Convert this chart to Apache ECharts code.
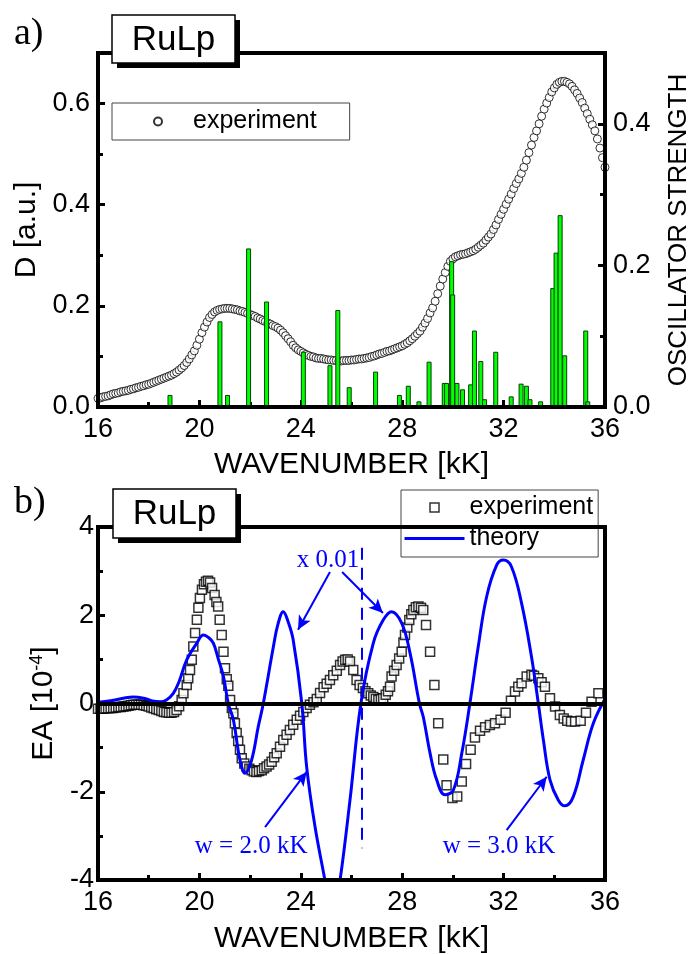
<!DOCTYPE html>
<html>
<head>
<meta charset="utf-8">
<script src="https://cdn.jsdelivr.net/npm/echarts@6/dist/echarts.min.js"></script>
<style>
html,body{margin:0;padding:0;background:#fff;}
#chart{width:688px;height:954px;}
</style>
</head>
<body>
<div id="chart"></div>
<script>
// ---------- Panel a): absorption ----------
const absX = [
16.0,16.1,16.2,16.3,16.4,16.5,16.6,16.7,16.8,16.9,
17.0,17.1,17.2,17.3,17.4,17.5,17.6,17.7,17.8,17.9,
18.0,18.1,18.2,18.3,18.4,18.5,18.6,18.7,18.8,18.9,
19.0,19.1,19.2,19.3,19.4,19.5,19.6,19.7,19.8,19.9,
20.0,20.1,20.2,20.3,20.4,20.5,20.6,20.7,20.8,20.9,
21.0,21.1,21.2,21.3,21.4,21.5,21.6,21.7,21.8,21.9,
22.0,22.1,22.2,22.3,22.4,22.5,22.6,22.7,22.8,22.9,
23.0,23.1,23.2,23.3,23.4,23.5,23.6,23.7,23.8,23.9,
24.0,24.1,24.2,24.3,24.4,24.5,24.6,24.7,24.8,24.9,
25.0,25.1,25.2,25.3,25.4,25.5,25.6,25.7,25.8,25.9,
26.0,26.1,26.2,26.3,26.4,26.5,26.6,26.7,26.8,26.9,
27.0,27.1,27.2,27.3,27.4,27.5,27.6,27.7,27.8,27.9,
28.0,28.1,28.2,28.3,28.4,28.5,28.6,28.7,28.8,28.9,
29.0,29.1,29.2,29.3,29.4,29.5,29.6,29.7,29.8,29.9,
30.0,30.1,30.2,30.3,30.4,30.5,30.6,30.7,30.8,30.9,
31.0,31.1,31.2,31.3,31.4,31.5,31.6,31.7,31.8,31.9,
32.0,32.1,32.2,32.3,32.4,32.5,32.6,32.7,32.8,32.9,
33.0,33.1,33.2,33.3,33.4,33.5,33.6,33.7,33.8,33.9,
34.0,34.1,34.2,34.3,34.4,34.5,34.6,34.7,34.8,34.9,
35.0,35.1,35.2,35.3,35.4,35.5,35.6,35.7,35.8,35.9,
36.0];
const absD = [
.017,.018,.020,.021,.022,.024,.026,.027,.028,.030,
.031,.032,.033,.035,.036,.038,.039,.041,.042,.044,
.045,.047,.049,.051,.053,.055,.057,.059,.061,.063,
.066,.069,.073,.077,.082,.088,.095,.103,.111,.122,
.134,.147,.158,.168,.177,.183,.188,.191,.193,.194,
.195,.195,.195,.194,.193,.192,.190,.189,.187,.185,
.183,.181,.179,.176,.174,.171,.169,.166,.164,.161,
.159,.156,.152,.147,.141,.135,.129,.122,.117,.113,
.110,.107,.104,.102,.100,.099,.097,.096,.096,.095,
.094,.093,.093,.092,.092,.091,.091,.092,.092,.092,
.093,.093,.094,.095,.095,.096,.097,.098,.100,.101,
.103,.105,.106,.108,.110,.111,.113,.115,.117,.119,
.121,.124,.127,.131,.135,.140,.145,.150,.158,.166,
.175,.186,.196,.209,.224,.239,.253,.266,.278,.288,
.293,.297,.299,.301,.302,.303,.305,.307,.309,.312,
.316,.320,.324,.330,.336,.342,.351,.360,.371,.381,
.391,.401,.411,.421,.432,.442,.451,.462,.474,.488,
.503,.518,.533,.546,.560,.575,.589,.601,.612,.623,
.631,.638,.642,.644,.644,.642,.639,.634,.627,.620,
.611,.602,.591,.580,.569,.558,.546,.530,.512,.493,
.474];
// oscillator strengths (stick spectrum)
const oscX = [18.84,20.81,21.11,21.94,22.65,24.10,25.15,25.46,25.91,26.95,27.89,28.24,28.66,29.06,29.66,29.75,29.95,29.99,30.16,30.38,30.70,30.85,31.10,31.25,31.69,32.30,32.69,32.90,33.04,33.46,33.94,34.07,34.23,34.41,35.24,35.32];
const oscF = [0.017,0.121,0.017,0.224,0.149,0.078,0.059,0.137,0.028,0.050,0.017,0.030,0.008,0.064,0.034,0.034,0.206,0.159,0.034,0.025,0.032,0.108,0.065,0.011,0.078,0.015,0.033,0.030,0.011,0.008,0.168,0.218,0.271,0.073,0.108,0.008];

// ---------- Panel b): electroabsorption ----------
const eaX = [16.0,16.1,16.2,16.3,16.4,16.5,16.6,16.7,16.8,16.9,17.0,17.1,17.2,17.3,17.4,17.5,17.6,17.7,17.8,17.9,18.0,18.1,18.2,18.3,18.4,18.5,18.6,18.7,18.8,18.9,19.0,19.1,19.2,19.3,19.37,19.5,19.56,19.63,19.7,19.76,19.83,19.9,19.96,20.02,20.1,20.18,20.26,20.34,20.42,20.5,20.6,20.67,20.74,20.8,20.88,20.95,21.01,21.08,21.14,21.21,21.28,21.34,21.4,21.47,21.53,21.6,21.67,21.77,21.87,21.97,22.06,22.15,22.25,22.35,22.46,22.55,22.65,22.75,22.85,22.95,23.05,23.18,23.31,23.44,23.57,23.7,23.84,23.97,24.1,24.23,24.36,24.5,24.63,24.76,24.9,25.02,25.15,25.28,25.42,25.55,25.65,25.75,25.85,25.94,26.07,26.2,26.32,26.45,26.55,26.66,26.76,26.86,26.96,27.06,27.16,27.25,27.35,27.44,27.52,27.58,27.68,27.78,27.88,27.98,28.05,28.11,28.2,28.28,28.36,28.44,28.54,28.64,28.74,28.83,28.94,29.1,29.27,29.42,29.62,29.75,29.98,30.17,30.35,30.52,30.7,30.87,31.07,31.27,31.46,31.66,31.88,32.08,32.29,32.45,32.58,32.71,32.91,33.1,33.2,33.37,33.5,33.63,33.83,34.03,34.22,34.37,34.51,34.66,34.82,35.04,35.25,35.47,35.74];
const eaExp = [-0.12,-0.12,-0.12,-0.11,-0.11,-0.10,-0.10,-0.09,-0.08,-0.08,-0.07,-0.06,-0.05,-0.04,-0.03,-0.03,-0.03,-0.03,-0.04,-0.05,-0.07,-0.09,-0.11,-0.13,-0.15,-0.17,-0.19,-0.20,-0.21,-0.21,-0.19,-0.15,-0.06,0.08,0.23,0.42,0.57,0.76,0.99,1.29,1.60,1.90,2.17,2.39,2.58,2.70,2.76,2.78,2.74,2.62,2.46,2.30,2.20,1.90,1.55,1.17,0.80,0.55,0.40,0.08,-0.10,-0.22,-0.45,-0.67,-0.85,-1.05,-1.24,-1.36,-1.43,-1.48,-1.51,-1.54,-1.55,-1.53,-1.51,-1.47,-1.43,-1.38,-1.32,-1.22,-1.13,-0.98,-0.83,-0.71,-0.60,-0.48,-0.37,-0.28,-0.19,-0.10,-0.03,0.03,0.10,0.24,0.37,0.45,0.53,0.64,0.74,0.87,0.95,0.99,1.00,0.95,0.76,0.53,0.42,0.35,0.28,0.23,0.18,0.15,0.10,0.08,0.10,0.12,0.20,0.28,0.38,0.61,0.74,0.87,1.02,1.17,1.38,1.55,1.72,1.89,2.02,2.12,2.18,2.20,2.17,2.12,1.78,1.17,0.42,-0.45,-1.27,-1.85,-2.14,-2.11,-1.77,-1.37,-1.05,-0.77,-0.62,-0.54,-0.49,-0.45,-0.37,-0.21,0.06,0.27,0.38,0.46,0.61,0.65,0.63,0.57,0.48,0.38,0.12,-0.07,-0.26,-0.34,-0.39,-0.41,-0.41,-0.39,-0.21,0.04,0.23];
const thX = [16.0,16.5,17.0,17.39,17.8,18.2,18.45,18.7,18.97,19.2,19.5,19.9,20.16,20.35,20.55,20.75,20.95,21.14,21.34,21.6,21.8,22.06,22.32,22.52,22.92,23.1,23.31,23.5,23.7,24.04,24.23,24.56,24.95,25.25,25.55,25.94,26.37,26.86,27.25,27.58,27.98,28.31,28.68,28.83,29.1,29.36,29.69,30.02,30.35,30.67,31.0,31.33,31.73,31.99,32.31,32.71,33.1,33.37,33.57,33.83,34.16,34.42,34.75,35.14,35.54,36.0];
const thY = [0.03,0.06,0.12,0.15,0.12,0.05,0.04,0.08,0.23,0.5,0.99,1.37,1.55,1.5,1.37,1.0,0.61,0.0,-0.37,-1.28,-1.58,-1.28,-0.53,0.0,1.29,1.8,2.08,1.85,1.44,0.0,-1.43,-2.79,-4.0,-5.0,-4.0,-2.19,0.0,1.37,1.89,2.08,1.82,1.14,0.0,-0.3,-1.13,-1.73,-2.07,-1.96,-1.13,0.0,1.29,2.42,3.14,3.25,3.1,2.27,1.06,0.0,-0.83,-1.73,-2.19,-2.32,-2.11,-1.28,-0.45,0.1];

const xTicksLabel = ['16','20','24','28','32','36'];

const FONT = 'Liberation Sans';
const SERIF = 'Liberation Serif';
const BLUE = '#0000ff';
const SQUARE = 'path://M0 0H10V10H0Z';

function zip(a, b) { return a.map((v, i) => [v, b[i]]); }

const chart = echarts.init(document.getElementById('chart'), null, {renderer: 'canvas'});

const tickStyle = {show: true, inside: true, length: 7, lineStyle: {color: '#000', width: 3}};
const minorStyle = {show: true, splitNumber: 2, length: 5, lineStyle: {color: '#000', width: 3}};

function xAxisCfg(gridIndex, nameGap, labelMargin) {
  return {
    type: 'value', gridIndex: gridIndex, position: 'bottom',
    min: 16, max: 36, interval: 4,
    axisLine: {show: false, onZero: false},
    axisTick: tickStyle, minorTick: minorStyle,
    splitLine: {show: false},
    axisLabel: {color: '#000', fontFamily: FONT, fontSize: 27, margin: labelMargin,
      formatter: v => xTicksLabel[Math.round((v - 16) / 4)] || ''},
    name: 'WAVENUMBER [kK]', nameLocation: 'middle', nameGap: nameGap,
    nameTextStyle: {color: '#000', fontFamily: FONT, fontSize: 30}
  };
}

const option = {
  animation: false,
  backgroundColor: '#fff',
  grid: [
    {left: 98, top: 53, width: 507, height: 354, show: true, borderColor: '#000', borderWidth: 4,
      backgroundColor: 'transparent', z: 10, containLabel: false, outerBoundsMode: 'none'},
    {left: 98, top: 527, width: 507, height: 353, show: true, borderColor: '#000', borderWidth: 4,
      backgroundColor: 'transparent', z: 10, containLabel: false, outerBoundsMode: 'none'}
  ],
  xAxis: [xAxisCfg(0, 43, 9), xAxisCfg(1, 44, 9)],
  yAxis: [
    {type: 'value', gridIndex: 0, position: 'left', min: 0, max: 0.7, interval: 0.2,
      axisLine: {show: false}, axisTick: tickStyle, minorTick: minorStyle, splitLine: {show: false},
      axisLabel: {color: '#000', fontFamily: FONT, fontSize: 27, margin: 8, showMaxLabel: false,
        formatter: v => v.toFixed(1)},
      name: 'D [a.u.]', nameLocation: 'middle', nameRotate: 90, nameGap: 48,
      nameTextStyle: {color: '#000', fontFamily: FONT, fontSize: 30}},
    {type: 'value', gridIndex: 0, position: 'right', min: 0, max: 0.5, interval: 0.2,
      axisLine: {show: false}, axisTick: tickStyle, minorTick: minorStyle, splitLine: {show: false},
      axisLabel: {color: '#000', fontFamily: FONT, fontSize: 27, margin: 8, showMaxLabel: false,
        formatter: v => v.toFixed(1)},
      name: 'OSCILLATOR STRENGTH', nameLocation: 'middle', nameRotate: 90, nameGap: 61,
      nameTextStyle: {color: '#000', fontFamily: FONT, fontSize: 26}},
    {type: 'value', gridIndex: 1, position: 'left', min: -4, max: 4, interval: 2,
      axisLine: {show: false, onZero: false}, axisTick: tickStyle, minorTick: minorStyle, splitLine: {show: false},
      axisLabel: {color: '#000', fontFamily: FONT, fontSize: 27, margin: 4},
      name: '{a|EA [10}{s|-4}{a|]}', nameLocation: 'middle', nameRotate: 90, nameGap: 31,
      nameTextStyle: {color: '#000', fontFamily: FONT, fontSize: 30,
        rich: {a: {fontFamily: FONT, fontSize: 30, color: '#000', lineHeight: 32},
               s: {fontFamily: FONT, fontSize: 18, color: '#000', verticalAlign: 'top', lineHeight: 32}}}}
  ],
  legend: [
    {left: 112, top: 103, orient: 'horizontal', padding: [5, 33, 5, 41],
      itemWidth: 60, itemHeight: 8, borderColor: '#444', borderWidth: 1, backgroundColor: '#fff',
      symbolKeepAspect: true,
      data: ['experiment'], selectedMode: false,
      textStyle: {color: '#000', fontFamily: FONT, fontSize: 25, lineHeight: 27}},
    {left: 401, top: 490, orient: 'vertical', padding: [4, 5, 5, 2], itemGap: 4,
      itemWidth: 60, itemHeight: 9, borderColor: '#444', borderWidth: 1, backgroundColor: '#fff',
      symbolKeepAspect: true,
      data: [
        {name: 'experiment_b', icon: SQUARE,
          itemStyle: {color: '#fff', borderColor: '#000', borderWidth: 1.5}},
        {name: 'theory',
          itemStyle: {color: 'rgba(0,0,0,0)', borderColor: 'rgba(0,0,0,0)', borderWidth: 0},
          lineStyle: {color: BLUE, width: 3}}
      ],
      selectedMode: false,
      formatter: n => n.replace('_b', ''),
      textStyle: {color: '#000', fontFamily: FONT, fontSize: 25, lineHeight: 27}}
  ],
  series: [
    {name: 'experiment', type: 'scatter', xAxisIndex: 0, yAxisIndex: 0,
      symbol: 'circle', symbolSize: 8, z: 2,
      itemStyle: {color: '#fff', borderColor: '#000', borderWidth: 1},
      data: zip(absX, absD)},
    {name: 'oscillator', type: 'bar', xAxisIndex: 0, yAxisIndex: 1, barWidth: 5, z: 3,
      itemStyle: {color: '#00ff00', borderColor: '#0b3d0b', borderWidth: 1},
      data: zip(oscX, oscF)},
    {name: 'experiment_b', type: 'scatter', xAxisIndex: 1, yAxisIndex: 2,
      symbol: 'rect', symbolSize: 9, z: 2,
      itemStyle: {color: '#fff', borderColor: '#000', borderWidth: 1.5},
      data: zip(eaX, eaExp),
      markLine: {silent: true, symbol: 'none', animation: false,
        lineStyle: {color: '#000', width: 4, type: 'solid'}, label: {show: false},
        data: [{yAxis: 0}]}},
    {name: 'theory', type: 'line', xAxisIndex: 1, yAxisIndex: 2, z: 4,
      symbol: 'none', showSymbol: false, smooth: 0.4, clip: true,
      lineStyle: {color: BLUE, width: 3}, itemStyle: {color: BLUE},
      data: zip(thX, thY),
      markLine: {silent: true, animation: false, label: {show: false},
        lineStyle: {color: BLUE, width: 2, type: 'solid'},
        symbolSize: [10, 14],
        data: [
          [{coord: [25.15, 2.98], symbol: 'none'}, {coord: [23.89, 1.67], symbol: 'arrow'}],
          [{coord: [25.63, 2.98], symbol: 'none'}, {coord: [27.24, 2.05], symbol: 'arrow'}],
          [{coord: [22.59, -2.80], symbol: 'none'}, {coord: [24.23, -1.55], symbol: 'arrow'}],
          [{coord: [32.12, -2.87], symbol: 'none'}, {coord: [33.70, -1.66], symbol: 'arrow'}],
          [{coord: [26.41, 3.53], symbol: 'none', lineStyle: {type: [12, 8], width: 2, color: BLUE}},
           {coord: [26.41, -3.28], symbol: 'none'}]
        ]},
      markPoint: {silent: true, animation: false, symbol: 'circle', symbolSize: 1,
        itemStyle: {color: 'rgba(0,0,0,0)'},
        label: {show: true, position: 'inside', formatter: '{b}', color: BLUE,
          fontFamily: SERIF, fontSize: 25},
        data: [
          {name: 'x 0.01', coord: [25.07, 3.25]},
          {name: 'w = 2.0 kK', coord: [22.04, -3.25]},
          {name: 'w = 3.0 kK', coord: [31.82, -3.25]}
        ]}}
  ],
  graphic: [
    {type: 'text', left: 14, top: 15, z: 100, style: {text: 'a)', fontFamily: SERIF, fontSize: 38, fill: '#000'}},
    {type: 'text', left: 14, top: 484, z: 100, style: {text: 'b)', fontFamily: SERIF, fontSize: 38, fill: '#000'}},
    {type: 'rect', shape: {x: 117, y: 20, width: 123, height: 48}, z: 100, style: {fill: '#000'}},
    {type: 'rect', shape: {x: 112, y: 15, width: 123, height: 48}, z: 101, style: {fill: '#fff', stroke: '#000', lineWidth: 1.5}},
    {type: 'text', x: 173.5, y: 40, z: 102, style: {text: 'RuLp', fontFamily: FONT, fontSize: 35, fill: '#000', align: 'center', verticalAlign: 'middle'}},
    {type: 'rect', shape: {x: 118, y: 494, width: 123, height: 49}, z: 100, style: {fill: '#000'}},
    {type: 'rect', shape: {x: 113, y: 489, width: 123, height: 49}, z: 101, style: {fill: '#fff', stroke: '#000', lineWidth: 1.5}},
    {type: 'text', x: 174.5, y: 514, z: 102, style: {text: 'RuLp', fontFamily: FONT, fontSize: 35, fill: '#000', align: 'center', verticalAlign: 'middle'}}
  ]
};
chart.setOption(option);
</script>
</body>
</html>
